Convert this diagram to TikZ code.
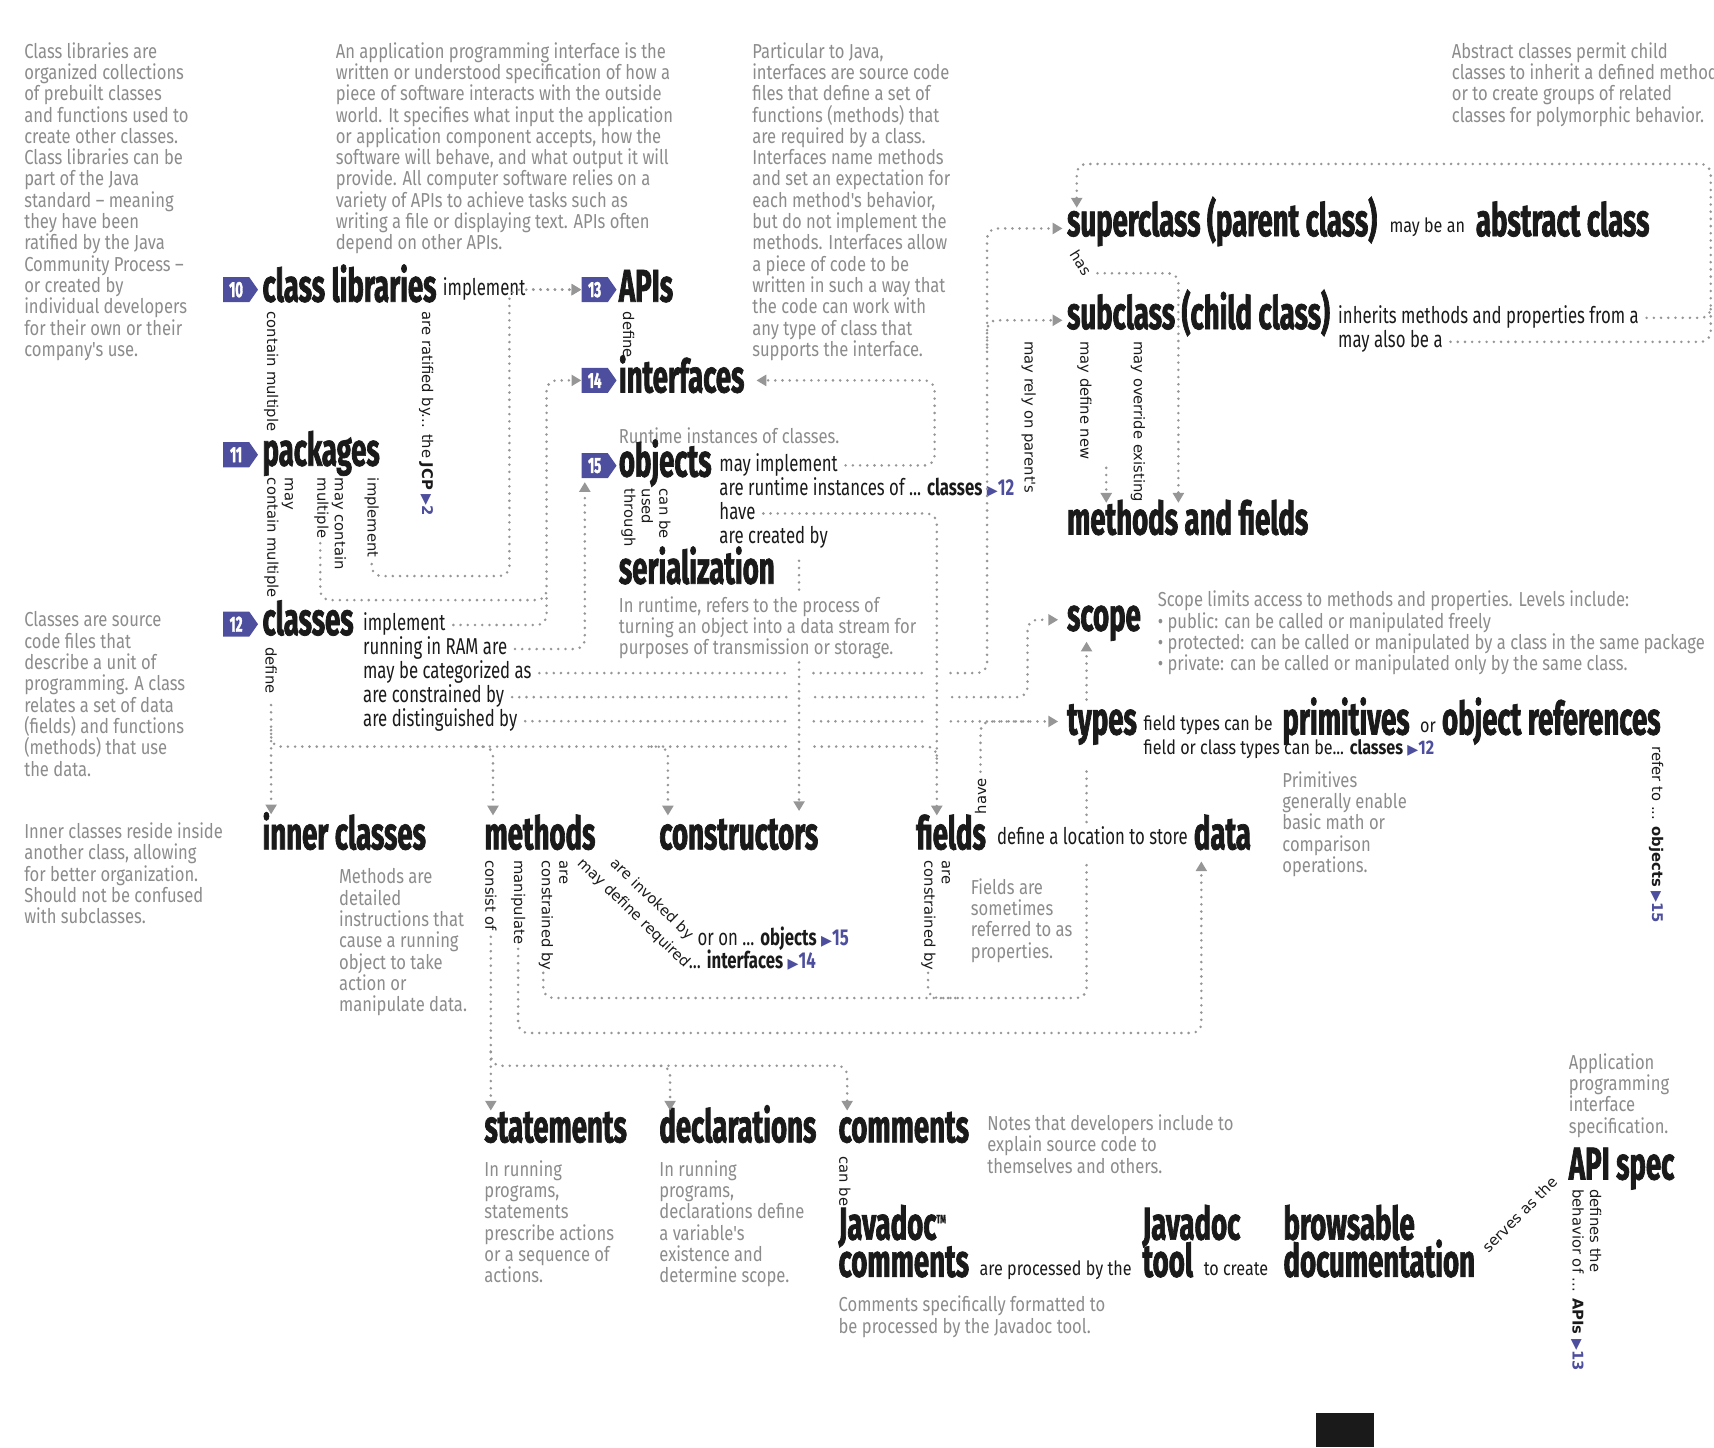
\documentclass[tikz,border=0pt]{standalone}
\usepackage{fontspec}
\setmainfont{Fira Sans}
\newfontfamily\headfont{Fira Sans}[FakeStretch=0.6, BoldFeatures={FakeBold=1.5}]
\newfontfamily\lblfont{Fira Sans}[FakeStretch=0.73]
\newfontfamily\notefont{Fira Sans}[FakeStretch=0.82]
\newfontfamily\vfont{DejaVu Sans}
\newfontfamily\symfont{DejaVu Sans}
\usetikzlibrary{arrows.meta,shapes.symbols}
\definecolor{refblue}{RGB}{78,78,158}
\definecolor{notegray}{RGB}{140,140,140}
\definecolor{linkgray}{RGB}{150,150,150}
\definecolor{ink}{RGB}{26,26,26}
\newcommand{\refto}[1]{{\color{refblue}{\symfont\fontsize{13}{13}\selectfont ▶}\textbf{#1}}}
\tikzset{
  head/.style={font=\headfont\bfseries\fontsize{42}{37}\selectfont, text=ink, inner sep=0pt, anchor=base west},
  lbl/.style={font=\lblfont\fontsize{21}{22}\selectfont, text=ink, inner sep=0pt, anchor=base west, text height=15pt, text depth=4.5pt},
  small/.style={font=\notefont\fontsize{18}{20}\selectfont, text=ink, inner sep=0pt, anchor=base west},
  note/.style={font=\notefont\fontsize{18.5}{19.5}\selectfont, text=notegray, inner sep=0pt, anchor=north west, align=left},
  vbase/.style={font=\vfont\fontsize{13.5}{16}\selectfont, text=ink, inner sep=0pt, anchor=west, align=left},
  vlbl/.style={vbase, rotate=-90},
  badge/.style={shape=signal, signal to=east, signal pointer angle=110, fill=refblue, text=white, font=\headfont\bfseries\fontsize{20}{20}\selectfont, minimum width=32pt, minimum height=23pt, inner xsep=3pt, inner ysep=0pt},
  link/.style={draw=linkgray, line width=2.6pt, line cap=round, dash pattern=on 0pt off 6.6pt, rounded corners=9pt},
  tip/.style={-{Triangle[width=10pt,length=9pt]}},
  gap/.style={draw=white, line width=18pt}
}
\begin{document}
\begin{tikzpicture}[x=1pt,y=-1pt]
\useasboundingbox (0,0) rectangle (1568,1324);

\node[note] (n-lib) at (22,38.5) {Class libraries are\\organized collections\\of prebuilt classes\\and functions used to\\create other classes.\\Class libraries can be\\part of the Java\\standard – meaning\\they have been\\ratified by the Java\\Community Process –\\or created by\\individual developers\\for their own or their\\company's use.};
\node[note] (n-api) at (307,38.5) {An application programming interface is the\\written or understood specification of how a\\piece of software interacts with the outside\\world. It specifies what input the application\\or application component accepts, how the\\software will behave, and what output it will\\provide. All computer software relies on a\\variety of APIs to achieve tasks such as\\writing a file or displaying text. APIs often\\depend on other APIs.};
\node[note] (n-intf) at (688,38.5) {Particular to Java,\\interfaces are source code\\files that define a set of\\functions (methods) that\\are required by a class.\\Interfaces name methods\\and set an expectation for\\each method's behavior,\\but do not implement the\\methods. Interfaces allow\\a piece of code to be\\written in such a way that\\the code can work with\\any type of class that\\supports the interface.};
\node[note] (n-abs) at (1328,38.5) {Abstract classes permit child\\classes to inherit a defined method\\or to create groups of related\\classes for polymorphic behavior.};
\node[note] (n-cls) at (22,559.5) {Classes are source\\code files that\\describe a unit of\\programming. A class\\relates a set of data\\(fields) and functions\\(methods) that use\\the data.};
\node[note] (n-inner) at (22,752.5) {Inner classes reside inside\\another class, allowing\\for better organization.\\Should not be confused\\with subclasses.};
\node[note] (n-obj) at (566,391.5) {Runtime instances of classes.};
\node[note] (n-ser) at (566,545.5) {In runtime, refers to the process of\\turning an object into a data stream for\\purposes of transmission or storage.};
\node[note] (n-scope) at (1059,540.5) {Scope limits access to methods and properties. Levels include:\\• public: can be called or manipulated freely\\• protected: can be called or manipulated by a class in the same package\\• private: can be called or manipulated only by the same class.};
\node[note] (n-prim) at (1173,705.5) {Primitives\\generally enable\\basic math or\\comparison\\operations.};
\node[note] (n-meth) at (310,794.5) {Methods are\\detailed\\instructions that\\cause a running\\object to take\\action or\\manipulate data.};
\node[note] (n-fld) at (888,803.5) {Fields are\\sometimes\\referred to as\\properties.};
\node[note] (n-stmt) at (443,1061.5) {In running\\programs,\\statements\\prescribe actions\\or a sequence of\\actions.};
\node[note] (n-decl) at (603,1061.5) {In running\\programs,\\declarations define\\a variable's\\existence and\\determine scope.};
\node[note] (n-cmt) at (903,1019.5) {Notes that developers include to\\explain source code to\\themselves and others.};
\node[note] (n-jd) at (767,1185.5) {Comments specifically formatted to\\be processed by the Javadoc tool.};
\node[note] (n-spec) at (1435,963.5) {Application\\programming\\interface\\specification.};

\node[badge] (b10) at (216,265) {10};
\node[head] (clib) at (240,276) {class libraries};
\node[lbl] (clib-impl) at (405,270) {implement};
\node[badge] (b13) at (544,265) {13};
\node[head] (apis) at (566,276) {APIs};
\node[badge] (b14) at (544,348) {14};
\node[head] (intf) at (566,359) {interfaces};
\node[badge] (b11) at (216,416) {11};
\node[head] (pkgs) at (240,426) {packages};
\node[badge] (b15) at (544,426) {15};
\node[head] (objs) at (566,436) {objects};
\node[head] (serial) at (566,534) {serialization};
\node[badge] (b12) at (216,571) {12};
\node[head] (cls) at (240,581) {classes};
\node[head] (super) at (976,216) {superclass (parent class)};
\node[small] (maybean) at (1271,213) {may be an};
\node[head] (abstr) at (1350,216) {abstract class};
\node[head] (sub) at (976,301) {subclass (child class)};
\node[lbl] (inherit) at (1224,296) {inherits methods and properties from a};
\node[lbl] (alsobe) at (1224,318) {may also be a};
\node[head] (mf) at (976,489) {methods and fields};
\node[head] (scope) at (976,577) {scope};
\node[head] (types) at (976,672) {types};
\node[small] (ftypes) at (1046,668) {field types can be};
\node[head] (prim) at (1173,672) {primitives};
\node[small] (or) at (1299,670) {or};
\node[head] (objref) at (1319,672) {object references};
\node[small] (fctypes) at (1046,690) {field or class types can be... \textbf{classes} \refto{12}};
\node[head] (inner) at (240,777) {inner classes};
\node[head] (meth) at (443,777) {methods};
\node[head] (ctor) at (603,777) {constructors};
\node[head] (fields) at (838,777) {fields};
\node[lbl] (loc) at (912,773) {define a location to store};
\node[head] (data) at (1092,777) {data};
\node[head] (stmt) at (443,1045) {statements};
\node[head] (decl) at (603,1045) {declarations};
\node[head] (cmt) at (767,1045) {comments};
\node[head] (apispec) at (1435,1079) {API spec};
\node[head] (jd1) at (767,1134) {Javadoc\raisebox{15pt}{\fontsize{11}{11}\selectfont TM}};
\node[head] (jd2) at (767,1168) {comments};
\node[small] (procby) at (896,1167) {are processed by the};
\node[head] (tool1) at (1045,1134) {Javadoc};
\node[head] (tool2) at (1045,1168) {tool};
\node[small] (tocreate) at (1101,1167) {to create};
\node[head] (doc1) at (1174,1134) {browsable};
\node[head] (doc2) at (1174,1168) {documentation};

\node[lbl] (o-impl) at (658,431) {may implement};
\node[lbl] (o-inst) at (658,453) {are runtime instances of ... \textbf{classes} \refto{12}};
\node[lbl] (o-have) at (658,475) {have};
\node[lbl] (o-made) at (658,497) {are created by};
\node[lbl] (c-impl) at (332,577) {implement};
\node[lbl] (c-ram) at (332,599) {running in RAM are};
\node[lbl] (c-cat) at (332,621) {may be categorized as};
\node[lbl] (c-con) at (332,643) {are constrained by};
\node[lbl] (c-dist) at (332,665) {are distinguished by};
\node[lbl] (m-obj) at (638,865) {or on ... \textbf{objects} \refto{15}};
\node[lbl] (m-intf) at (630,886) {... \textbf{interfaces} \refto{14}};

\node[vlbl] (v-contain) at (248,285) {contain multiple};
\node[vlbl] (v-ratify) at (390,285) {are ratified by... the \textbf{JCP} \refto{2}};
\node[vlbl] (v-define) at (575,285) {define};
\node[vlbl] (v-pk1) at (255,437) {may\\contain multiple};
\node[vlbl] (v-pk2) at (302,437) {may contain\\multiple};
\node[vlbl] (v-pk3) at (340,437) {implement};
\node[vlbl] (v-through) at (591,447) {can be\\used\\through};
\node[vlbl] (v-rely) at (941,312) {may rely on parent's};
\node[vlbl] (v-new) at (992,312) {may define new};
\node[vlbl] (v-over) at (1041,312) {may override existing};
\node[vlbl] (v-cdef) at (248,592) {define};
\node[vlbl] (v-consist) at (449,787) {consist of};
\node[vlbl] (v-manip) at (474,787) {manipulate};
\node[vlbl] (v-mcon) at (506,787) {are\\constrained by};
\node[vlbl] (v-fcon) at (856,787) {are\\constrained by};
\node[vlbl] (v-canbe) at (773,1058) {can be};
\node[vlbl] (v-refer) at (1515,683) {refer to ... \textbf{objects} \refto{15}};
\node[vlbl] (v-behav) at (1451,1088) {defines the\\behavior of ... \textbf{APIs} \refto{13}};
\node[vbase, rotate=90] (v-fhave) at (897,745) {have};
\node[vbase, rotate=-58] (v-has) at (983,230) {has};
\node[vbase, rotate=-44] (v-invoke) at (560,788) {are invoked by};
\node[vbase, rotate=-44] (v-req) at (530,788) {may define required};
\node[vbase, rotate=45] (v-serves) at (1358,1143) {serves as the};

\draw[link,tip] ([xshift=7pt]clib-impl.east) -- (b13.west);
\draw[link,tip] (340,516) |- (466,527) |- (b13.west);
\draw[link,tip] (293,497) |- (500,549) |- (b14.west);
\draw[link] ([xshift=7pt]c-impl.east) -| (500,545);
\draw[link,tip] ([xshift=7pt]o-impl.east) -| (855,348) -- (692,348);
\draw[link,tip] ([xshift=7pt]c-ram.east) -| (535,441);
\draw[link,tip] ([xshift=7pt]c-cat.east) -| (903,209) -- (972,209);
\draw[link,tip] (903,318) |- (972,293);
\draw[link,tip] ([xshift=7pt]c-con.east) -| (940,567) -- (968,567);
\draw[link,tip] ([xshift=7pt]c-dist.east) -- (968,660);
\draw[link] (248,668) |- (857,683) -- (857,700);
\path[gap] (731,606) -- (731,692);
\path[gap] (857,606) -- (857,669);
\draw[link,tip] ([xshift=7pt]o-have.east) -| (857,746);
\draw[link] (731,513) -- (731,540);
\draw[link,tip] (731,606) -- (731,742);
\draw[link,tip] (248,645) -- (248,745);
\draw[link,tip] (436,683) -| (451,746);
\draw[link,tip] (596,683) -| (611,746);
\draw[link,tip] (1004,250) -| (1078,460);
\draw[link,tip] (1012,428) -- (1012,460);
\draw[link,tip] ([xshift=7pt]inherit.east) -| (1565,150) -| (985,190);
\draw[link] ([xshift=7pt]alsobe.east) -| (1565,280);
\draw[link,tip] (994,640) -- (994,587);
\draw[link] (497,890) |- (994,913) -- (994,787);
\draw[link] (994,752) -- (994,700);
\draw[link] (849,890) |- (880,913);
\draw[link,tip] (474,868) |- (1099,945) -- (1099,788);
\draw[link,tip] (449,857) -- (449,1016);
\draw[link,tip] (449,962) |- (775,975) -- (775,1016);
\draw[link,tip] (598,975) -| (613,1016);
\draw[link] (897,706) |- (945,660);

\fill[ink] (1204,1293) rectangle (1257,1324);
\end{tikzpicture}
\end{document}
